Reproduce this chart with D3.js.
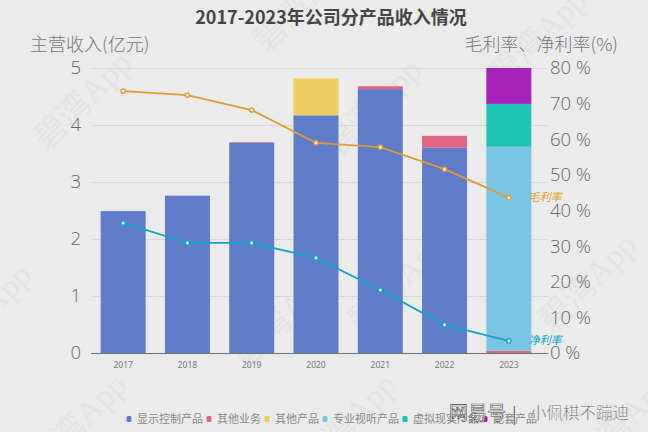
<!DOCTYPE html>
<html>
<head>
<meta charset="utf-8">
<script src="https://cdn.jsdelivr.net/npm/d3@7"></script>
<style>
  html, body { margin: 0; padding: 0; background: #ebebeb; }
  svg { display: block; }
  text { font-family: "Noto Sans CJK SC", "Noto Sans", sans-serif; }
</style>
</head>
<body>
<div id="chart"></div>
<script>
var years = ["2017", "2018", "2019", "2020", "2021", "2022", "2023"];
var productNames = ["显示控制产品", "其他业务", "其他产品", "专业视听产品", "虚拟现实产品", "配套产品"];
var productColors = ["#5f7ccb", "#df6680", "#edd061", "#79c5e5", "#1dc3b3", "#a622b8"];

// revenue by product, one array per legend entry
var displayControl = [2.49, 2.76, 3.69, 4.17, 4.63, 3.60, 0];
var otherBusiness = [0, 0, 0.01, 0, 0.05, 0.21, 0.04];
var otherProducts = [0, 0, 0, 0.65, 0, 0, 0];
var proAudioVisual = [0, 0, 0, 0, 0, 0, 3.58];
var virtualReality = [0, 0, 0, 0, 0, 0, 0.75];
var accessories = [0, 0, 0, 0, 0, 0, 0.63];

var grossMargin = [73.5, 72.4, 68.2, 59.0, 57.8, 51.6, 43.6];
var netMargin = [36.5, 30.9, 30.9, 26.7, 17.7, 7.9, 3.4];

var revenueTicks = [0, 1, 2, 3, 4, 5];
var marginTicks = [0, 10, 20, 30, 40, 50, 60, 70, 80];

var width = 648, height = 432;
var margin = {top: 68, right: 107, bottom: 79, left: 91};

var svg = d3.select("#chart").append("svg")
    .attr("width", width)
    .attr("height", height);

// background watermark, some of them run off the page like in the original
var marks = [[85, 103], [305, 5], [375, 110], [540, 40], [400, 285], [590, 285], [-15, 315], [285, 320], [80, 425], [350, 425], [625, 425]];
svg.append("g").selectAll("text")
    .data(marks)
    .enter().append("text")
    .attr("transform", function(d) { return "translate(" + d[0] + "," + d[1] + ") rotate(-45)"; })
    .attr("text-anchor", "middle")
    .attr("dominant-baseline", "middle")
    .attr("font-size", "33px")
    .attr("fill", "#e3e3e3")
    .style("font-family", "'Liberation Serif', 'Noto Sans CJK SC', serif")
    .text("碧湾App");

var x = d3.scaleBand()
    .domain(years)
    .range([margin.left, width - margin.right])
    .paddingInner(0.3)
    .paddingOuter(0.15);

var yLeft = d3.scaleLinear()
    .domain([0, 5])
    .range([height - margin.bottom, margin.top]);

var yRight = d3.scaleLinear()
    .domain([0, 80])
    .range([height - margin.bottom, margin.top]);

// gridlines
svg.append("g").selectAll("line")
    .data(revenueTicks.slice(1))
    .enter().append("line")
    .attr("x1", margin.left)
    .attr("x2", width - margin.right + 7)
    .attr("y1", function(d) { return Math.round(yLeft(d)) + 0.5; })
    .attr("y2", function(d) { return Math.round(yLeft(d)) + 0.5; })
    .attr("stroke", "#d5d7d9");

// stacked bars
var rows = years.map(function(year, i) {
  return {
    year: year,
    "显示控制产品": displayControl[i],
    "其他业务": otherBusiness[i],
    "其他产品": otherProducts[i],
    "专业视听产品": proAudioVisual[i],
    "虚拟现实产品": virtualReality[i],
    "配套产品": accessories[i]
  };
});
var stacked = d3.stack().keys(productNames)(rows);

svg.append("g").selectAll("g")
    .data(stacked)
    .enter().append("g")
    .attr("fill", function(d, i) { return productColors[i]; })
    .selectAll("rect")
    .data(function(d) { return d; })
    .enter().append("rect")
    .attr("x", function(d) { return x(d.data.year); })
    .attr("width", x.bandwidth())
    .attr("y", function(d) { return yLeft(d[1]); })
    .attr("height", function(d) { return yLeft(d[0]) - yLeft(d[1]); });

// axes
var xAxis = svg.append("g")
    .attr("transform", "translate(0," + (height - margin.bottom) + ")")
    .call(d3.axisBottom(x).tickSize(0).tickPadding(9));
xAxis.select(".domain").attr("stroke", "#6b6f78").attr("stroke-width", 1)
    .attr("d", "M" + margin.left + ",0.5H" + (width - margin.right + 7));
xAxis.selectAll("text")
    .attr("font-size", "8.5px")
    .attr("fill", "#777")
    .style("font-family", "'Noto Sans', sans-serif");

var leftAxis = svg.append("g")
    .attr("transform", "translate(" + margin.left + ",0)")
    .call(d3.axisLeft(yLeft).tickValues(revenueTicks).tickFormat(d3.format("d")).tickSize(0).tickPadding(10));
leftAxis.select(".domain").remove();
leftAxis.selectAll("text")
    .attr("font-size", "18.5px")
    .attr("font-weight", 300)
    .attr("fill", "#666")
    .style("font-family", "'Open Sans', sans-serif");

var rightAxis = svg.append("g")
    .attr("transform", "translate(" + (width - margin.right) + ",0)")
    .call(d3.axisRight(yRight).tickValues(marginTicks).tickFormat(function(d) { return d + " %"; }).tickSize(0).tickPadding(9));
rightAxis.select(".domain").remove();
rightAxis.selectAll("text")
    .attr("font-size", "18.5px")
    .attr("font-weight", 300)
    .attr("fill", "#666")
    .style("font-family", "'Open Sans', sans-serif");

// margin lines
function drawLine(values, color, label, labelColor) {
  var line = d3.line()
    .x(function(d, i) { return x(years[i]) + x.bandwidth() / 2; })
    .y(function(d) { return yRight(d); });

  svg.append("path")
    .datum(values)
    .attr("d", line)
    .attr("fill", "none")
    .attr("stroke", color)
    .attr("stroke-width", 1.8);

  svg.append("g").selectAll("circle")
    .data(values)
    .enter().append("circle")
    .attr("cx", function(d, i) { return x(years[i]) + x.bandwidth() / 2; })
    .attr("cy", function(d) { return yRight(d); })
    .attr("r", 2.2)
    .attr("fill", "#e8e8e8")
    .attr("stroke", color)
    .attr("stroke-width", 1.3);

  svg.append("text")
    .attr("x", x(years[6]) + x.bandwidth() / 2 + 20)
    .attr("y", yRight(values[6]) + 3.5)
    .attr("font-size", "11px")
    .attr("font-style", "italic")
    .attr("fill", labelColor)
    .text(label);
}
drawLine(grossMargin, "#dd9b38", "毛利率", "#dba01e");
drawLine(netMargin, "#12a4c4", "净利率", "#12a4c4");

// titles
svg.append("text")
    .attr("x", 331)
    .attr("y", 24)
    .attr("text-anchor", "middle")
    .attr("font-size", "18px")
    .attr("font-weight", "bold")
    .attr("fill", "#444")
    .text("2017-2023年公司分产品收入情况");

svg.append("text")
    .attr("x", 30)
    .attr("y", 51)
    .attr("font-size", "18px")
    .attr("fill", "#777")
    .style("font-weight", 300)
    .text("主营收入(亿元)");

svg.append("text")
    .attr("x", 618)
    .attr("y", 51)
    .attr("text-anchor", "end")
    .attr("font-size", "18px")
    .attr("fill", "#777")
    .style("font-weight", 300)
    .text("毛利率、净利率(%)");

// legend
var legendX = [129, 209, 267, 325, 405, 485];
var legend = svg.append("g").selectAll("g")
    .data(productNames)
    .enter().append("g")
    .attr("transform", function(d, i) { return "translate(" + legendX[i] + ",419)"; });
legend.append("rect")
    .attr("x", -2.5)
    .attr("y", -3)
    .attr("width", 5)
    .attr("height", 6)
    .attr("rx", 1.5)
    .attr("fill", function(d, i) { return productColors[i]; });
legend.append("text")
    .attr("x", 8)
    .attr("y", 4)
    .attr("font-size", "11px")
    .attr("fill", "#888")
    .text(function(d) { return d; });

// source stamp in the corner
var stamp = svg.append("g");
stamp.append("text")
    .attr("x", 449)
    .attr("y", 420)
    .attr("font-size", "19px")
    .attr("fill", "#fff")
    .attr("stroke", "#444")
    .attr("stroke-width", 0.6)
    .text("网易号");
stamp.append("text")
    .attr("x", 512)
    .attr("y", 420)
    .attr("font-size", "17px")
    .attr("fill", "#666")
    .text("|");
stamp.append("text")
    .attr("x", 530)
    .attr("y", 419)
    .attr("font-size", "16.5px")
    .attr("fill", "#777")
    .attr("stroke", "#fff")
    .attr("stroke-width", 0.3)
    .text("小佩棋不蹦迪");
</script>
</body>
</html>
